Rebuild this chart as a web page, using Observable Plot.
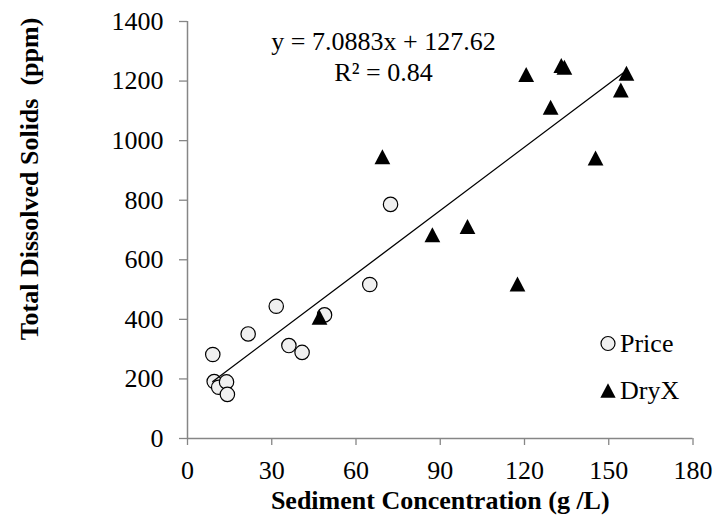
<!DOCTYPE html>
<html>
<head>
<meta charset="utf-8">
<script src="https://cdn.jsdelivr.net/npm/d3@7"></script>
<script src="https://cdn.jsdelivr.net/npm/@observablehq/plot@0.6"></script>
<style>
  html, body { margin: 0; padding: 0; background: #fff; }
  #chart svg text { white-space: pre; font-family: "Liberation Serif", "Times New Roman", serif; }
</style>
</head>
<body>
<div id="chart"></div>
<script>
// ---- data ----
const seriesNames = ["Price", "DryX"];
const priceX = [9.0, 9.5, 11.1, 13.9, 14.2, 21.6, 31.6, 36.1, 40.8, 48.8, 64.9, 72.3];
const priceY = [282, 191, 172, 190, 148, 351, 444, 312, 289, 415, 517, 786];
const dryXv  = [47.0, 69.4, 87.2, 99.7, 117.5, 120.6, 129.3, 133.1, 134.2, 145.3, 154.3, 156.3];
const dryYv  = [407, 946, 684, 712, 519, 1222, 1112, 1252, 1246, 942, 1170, 1226];
const xTicks = [0, 30, 60, 90, 120, 150, 180];
const yTicks = [0, 200, 400, 600, 800, 1000, 1200, 1400];
const slope = 7.0883;
const intercept = 127.62;
const eqLines = ["y = 7.0883x + 127.62", "R² = 0.84"];
const xTitle = "Sediment Concentration (g /L)";
const yTitle = "Total Dissolved Solids  (ppm)";

// ---- tables built from the arrays ----
const price = priceX.map((x, i) => ({x, y: priceY[i]}));
const dry = dryXv.map((x, i) => ({x, y: dryYv[i]}));
const allX = priceX.concat(dryXv);
const xExt = [d3.min(allX), d3.max(allX)];
const trend = xExt.map(x => ({x, y: slope * x + intercept}));

// isosceles triangle like the spreadsheet marker (bbox centred)
const tri = {
  draw(context, size) {
    const r = Math.sqrt(size / Math.PI);
    const w = r * 1.05;
    context.moveTo(0, -r);
    context.lineTo(w, r);
    context.lineTo(-w, r);
    context.closePath();
  }
};

const axisGray = "#868686";
const serif = "'Liberation Serif', 'Times New Roman', serif";

const chart = Plot.plot({
  width: 714,
  height: 521,
  marginLeft: 187,
  marginRight: 21.5,
  marginTop: 21,
  marginBottom: 83,
  style: {
    fontFamily: serif,
    fontSize: "26px",
    color: "black",
    background: "white",
    overflow: "visible"
  },
  x: {domain: [0, 180]},
  y: {domain: [0, 1400]},
  marks: [
    Plot.axisY({ticks: yTicks, tickSize: 8, tickPadding: 16, stroke: axisGray, strokeWidth: 1.3, fill: "black", label: null, fontFamily: serif, tickFormat: d => String(d)}),
    Plot.axisX({ticks: xTicks, tickSize: 7, tickPadding: 15, stroke: axisGray, strokeWidth: 1.3, fill: "black", label: null, fontFamily: serif, tickFormat: d => String(d)}),
    Plot.ruleX([0], {stroke: axisGray, strokeWidth: 1.5}),
    Plot.ruleY([0], {stroke: axisGray, strokeWidth: 1.5}),
    Plot.dot(price, {x: "x", y: "y", r: 7.2, fill: "#f0f0f0", stroke: "black", strokeWidth: 1.2}),
    Plot.dot(dry, {x: "x", y: "y", r: 7.5, symbol: tri, fill: "black", stroke: "none"}),
    Plot.line(trend, {x: "x", y: "y", stroke: "black", strokeWidth: 1.3}),
    // trendline equation
    Plot.text([eqLines.join("\n")], {frameAnchor: "top-left", dx: 196, dy: 6, textAnchor: "middle", lineAnchor: "top", lineHeight: 1.2, fontSize: 26, fontFamily: serif, fill: "black"}),
    // legend
    Plot.dot([seriesNames[0]], {frameAnchor: "bottom-right", dx: -85, dy: -95, r: 7, fill: "#f0f0f0", stroke: "black", strokeWidth: 1.2}),
    Plot.dot([seriesNames[1]], {frameAnchor: "bottom-right", dx: -85, dy: -48, r: 7.3, symbol: tri, fill: "black", stroke: "none"}),
    Plot.text([seriesNames[0]], {frameAnchor: "bottom-right", dx: -73, dy: -95, text: d => d, textAnchor: "start", lineAnchor: "middle", fontSize: 26, fontFamily: serif, fill: "black"}),
    Plot.text([seriesNames[1]], {frameAnchor: "bottom-right", dx: -73, dy: -48, text: d => d, textAnchor: "start", lineAnchor: "middle", fontSize: 26, fontFamily: serif, fill: "black"}),
    // axis titles
    Plot.text([xTitle], {frameAnchor: "bottom", dy: 62, text: d => d, textAnchor: "middle", lineAnchor: "middle", fontSize: 26, fontWeight: "bold", fontFamily: serif, fill: "black"}),
    Plot.text([yTitle], {frameAnchor: "left", dx: -158, dy: -51, rotate: -90, text: d => d, textAnchor: "middle", lineAnchor: "middle", fontSize: 26, fontWeight: "bold", fontFamily: serif, fill: "black"})
  ]
});

document.getElementById("chart").appendChild(chart);
</script>
</body>
</html>
